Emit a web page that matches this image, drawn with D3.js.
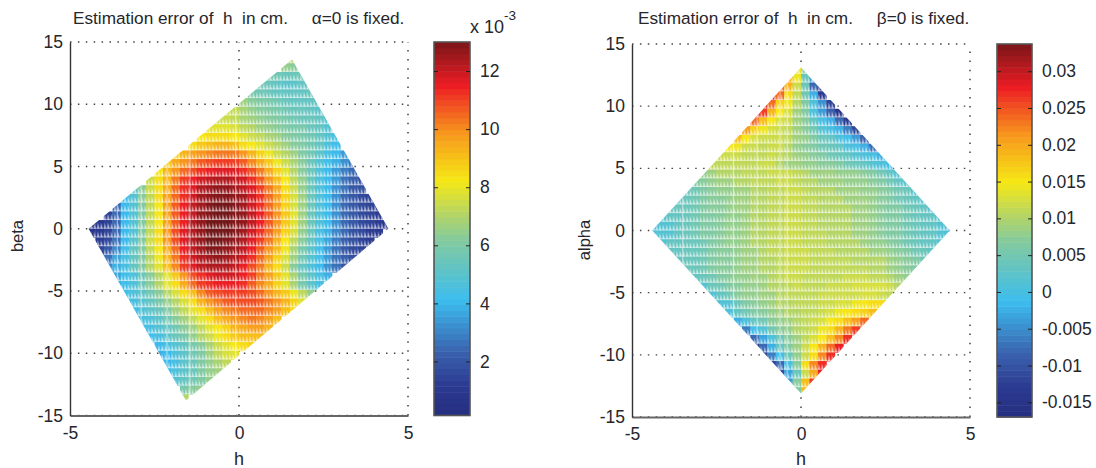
<!DOCTYPE html>
<html>
<head>
<meta charset="utf-8">
<script src="https://cdn.jsdelivr.net/npm/d3@7"></script>
<style>
  html, body { margin: 0; background: #fff; }
  text { font-family: "Liberation Sans", Arial, sans-serif; fill: #26262b; white-space: pre; }
</style>
</head>
<body>
<div id="graph"></div>
<script>
// error, one array per row, from the top row down.
// left panel in units of 1e-4 cm, right panel in units of 1e-3 cm
const leftRows = [
  [70,70],
  [64,62],
  [58,56,55,55,56],
  [56,54,52,51,51,52,54],
  [58,56,54,52,52,52,53,54],
  [66,63,60,58,56,54,53,53,53,52],
  [74,72,68,65,62,60,58,57,55,54,53,51],
  [75,74,72,69,66,64,62,60,58,57,55,54,52,48],
  [78,79,79,76,73,70,67,65,63,61,59,58,55,53,48],
  [83,84,85,85,82,79,75,72,69,66,63,61,59,56,53,49,44],
  [85,88,90,92,92,90,85,82,78,74,70,67,63,60,57,53,47,42],
  [87,92,96,99,101,102,103,102,98,92,86,80,75,71,66,61,56,51,45,40,34],
  [88,94,98,102,106,108,110,110,110,106,100,94,88,81,75,69,62,55,48,43,38,32,27],
  [83,92,99,104,108,112,114,116,117,116,113,108,102,94,86,78,70,62,54,47,41,35,29,25],
  [74,84,93,102,110,114,118,120,122,122,121,118,112,106,98,90,82,73,64,55,47,41,34,27,23,19],
  [50,62,74,84,95,104,112,117,122,124,126,126,124,121,116,110,102,94,85,74,64,54,46,40,33,26,21,18],
  [40,49,62,73,84,96,105,113,119,124,127,129,129,127,124,118,112,104,96,86,76,66,54,46,40,33,25,20,17,14],
  [24,40,48,60,72,83,97,106,114,120,125,128,130,130,128,125,119,113,105,97,87,77,66,54,46,40,32,25,20,17,14,12],
  [14,24,40,48,60,72,83,97,107,115,121,126,129,130,130,129,126,120,114,106,98,88,78,66,55,46,40,32,25,20,17,14,12],
  [9,11,14,24,40,48,60,72,83,97,107,115,122,127,130,130,130,129,126,120,114,106,98,88,78,66,55,46,40,32,25,20,17,14,12,9],
  [9,11,14,24,40,48,60,73,84,98,108,116,122,127,130,130,130,129,125,119,113,105,96,86,76,64,54,45,39,31,24,19,16,13,11],
  [12,16,26,40,50,60,74,84,98,108,116,122,127,130,130,129,126,122,117,110,102,93,83,72,62,52,44,37,29,22,18,15,13],
  [15,20,30,42,52,60,72,82,94,104,114,120,125,129,129,127,124,120,114,106,98,90,80,69,59,50,43,34,26,20,17,15],
  [26,36,44,52,60,71,81,92,102,112,118,122,125,126,125,122,118,112,105,96,87,77,66,56,48,42,34,27,22,18],
  [30,38,45,52,60,70,79,90,100,110,116,120,122,123,122,120,115,109,102,93,84,74,63,53,46,40,32,26,21],
  [36,42,46,54,62,70,79,88,98,108,113,116,118,118,118,115,110,103,96,88,79,68,58,50,44,38],
  [38,42,47,55,62,70,78,85,94,104,110,113,114,115,114,112,107,100,94,86,78,68,58,50,45],
  [42,46,50,57,63,70,77,84,90,100,106,109,110,111,111,109,104,99,93,88,80,72,64],
  [44,48,53,59,65,71,77,84,92,98,103,106,108,109,109,107,103,98,92,86,78],
  [43,46,50,55,60,66,72,78,84,90,96,100,103,105,105,104,100,96,90,84],
  [44,47,51,56,62,67,73,79,84,90,95,98,101,102,101,97,90],
  [42,45,48,52,57,62,67,72,78,83,87,92,95,97,96,92],
  [42,45,50,54,59,64,70,75,80,84,88,90,91,90],
  [40,44,48,53,58,63,69,74,79,82,85,86],
  [38,41,46,51,56,61,67,72,76,78],
  [40,45,50,55,60,65,69,72],
  [40,46,50,55,60,64,67],
  [48,52,57,61,64],
  [58,62,65],
  [70]
];
// column index where each row starts
const leftStart = [23,23,21,20,19,18,16,15,14,13,12,10,9,8,7,5,4,3,2,0,0,1,1,2,2,3,3,4,5,5,6,6,7,8,8,9,9,10,11,11];

const rightRows = [
  [14,6],
  [20,14,4,-4],
  [24,19,12,4,-8,-14],
  [27,24,16,11,5,-2,-13],
  [27,24,17,14,10,6,1,-5,-12],
  [27,26,19,15,13,9,6,1,-4,-9,-14],
  [24,18,15,13,12,9,7,3,0,-2,-8,-13],
  [21,17,14,13,12,11,9,7,5,2,0,-2,-6,-11],
  [18,15,13,12,12,12,11,9,8,6,4,3,1,-1,-4,-9],
  [15,14,12,12,11,12,12,10,8,7,6,5,4,3,1,0,-2,-7],
  [12,12,12,11,11,11,12,11,10,9,8,7,6,5,4,3,2,1,0,-2],
  [11,11,11,11,11,11,12,12,10,9,9,8,8,7,7,6,5,4,3,2,1,-1],
  [8,9,10,10,10,11,11,11,12,12,12,11,10,9,9,9,8,8,8,7,6,5,3,2],
  [6,7,8,9,9,10,10,11,11,11,12,12,11,10,10,9,9,9,8,8,8,7,6,5,3,2],
  [4,5,6,7,8,8,9,9,10,10,11,11,12,12,11,10,10,10,9,9,9,8,8,7,6,5,4,2],
  [3,4,5,6,7,7,8,9,9,10,10,11,11,12,12,11,11,10,10,10,9,9,9,8,7,6,5,4,3,2],
  [3,4,4,5,6,7,7,8,9,9,10,10,11,11,12,12,11,11,10,10,10,10,9,9,8,7,6,6,5,4,3,2],
  [2,3,3,4,5,6,6,7,8,8,9,10,10,11,11,12,12,11,11,10,10,10,10,9,9,8,7,6,6,5,4,3,3,2],
  [1,2,2,3,4,5,6,6,7,8,8,9,10,10,11,11,12,12,11,11,10,10,10,10,9,9,8,7,6,6,5,4,3,3,2,1],
  [1,2,2,3,4,5,6,6,7,8,8,9,10,10,11,11,12,12,11,11,11,10,10,10,9,9,8,7,6,6,5,4,3,3,2,1],
  [2,3,3,4,4,5,6,7,8,8,9,10,10,11,11,12,12,11,11,11,10,10,10,10,9,8,8,7,6,5,4,3,3,2],
  [3,3,4,4,5,6,7,7,8,9,9,10,11,11,12,12,12,11,11,11,10,10,10,10,9,9,8,7,6,5,4,3],
  [3,4,4,5,6,7,7,8,9,9,10,10,11,12,12,12,11,11,11,11,11,10,10,10,10,9,8,7,6,5],
  [4,4,5,6,7,7,8,9,9,10,10,11,12,12,12,11,11,11,11,11,11,11,10,10,9,8,7,6],
  [3,4,5,6,7,8,8,9,9,10,11,12,12,11,11,11,11,11,12,12,12,11,11,10,9,8],
  [2,4,5,6,7,8,8,9,10,10,11,12,11,11,11,12,12,12,13,13,13,13,12,10],
  [2,3,5,7,8,8,9,9,10,11,11,11,11,12,12,12,12,12,13,13,12,11],
  [1,2,4,6,7,8,9,10,10,11,11,11,12,12,13,13,14,15,16,16],
  [1,3,5,6,7,8,9,10,10,11,11,12,13,14,15,16,17,18],
  [-2,1,3,5,7,8,9,10,11,12,13,15,16,18,21,24],
  [-6,-1,2,5,7,8,10,11,12,14,16,19,23,26],
  [-8,-3,1,4,7,9,11,13,15,18,22,27],
  [-13,-8,-2,3,6,9,12,15,19,24,28],
  [-12,-6,-1,4,8,12,16,22,27],
  [-12,-8,0,7,16,22,27],
  [-10,-3,4,12,20,28],
  [-4,7,18,26],
  [6,18]
];
const rightStart = [17,16,15,14,13,12,12,11,10,9,8,7,6,5,4,3,2,1,0,0,1,2,3,4,5,6,7,8,9,10,11,12,12,13,14,15,16,17];

// corners of the sampled regions [h, beta or alpha]
const leftOutline = [[-4.45,0],[1.57,13.6],[4.42,0],[-1.57,-13.8]];
const rightOutline = [[-4.4,0],[0,13.1],[4.4,0],[0,-13.1]];

// white vertical seams in the mesh
const leftSeams = [-3.6,-2.9,-2.13,-1.45,-0.1];
const rightSeams = [-3.5,-2.0,-1.3,-0.62,-0.41];

const xTicks = [-5,0,5];
const yTicks = [-15,-10,-5,0,5,10,15];
const leftBarTicks = [2,4,6,8,10,12];
const rightBarTicks = [-0.015,-0.01,-0.005,0,0.005,0.01,0.015,0.02,0.025,0.03];

const hStep = 0.25, rowStep = 0.7, firstH = -4.375;

// jet as it came out in the printed figure
const jetStops = [0,.08,.17,.31,.47,.55,.63,.76,.885,1];
const jetColors = ["#262f80","#2b3990","#3a62ae","#3cbdee","#83ca9f","#bcd75c","#f6e815","#f7941d","#ec1c24","#7a1619"];
const jet = d3.scaleLinear().domain(jetStops).range(jetColors);
const nLevels = 64;

const svg = d3.select("#graph").append("svg").attr("width", 1096).attr("height", 468)
  .style("display", "block").style("background-color", "#FFFFFF");

const defs = svg.append("defs");

function drawPanel(p) {
  const x = d3.scaleLinear().domain([-5,5]).range(p.xRange);
  const y = d3.scaleLinear().domain([-15,15]).range(p.yRange);
  const level = d3.scaleLinear().domain(p.barDomain).range([0,1]).clamp(true);
  const colorOf = v => jet((Math.floor(level(v) * nLevels) + .5) / nLevels);

  // title and labels
  svg.append("text").attr("x", p.titleX).attr("y", 24).attr("font-size", 17.2).text(p.title);
  svg.append("text").attr("x", x(0)).attr("y", 465).attr("text-anchor", "middle").attr("font-size", 18).text("h");
  svg.append("text").attr("transform", `translate(${p.yLabelX},${p.yLabelY}) rotate(-90)`)
    .attr("text-anchor", "middle").attr("font-size", 16.5).text(p.yLabel);

  // dotted grid
  svg.append("g").selectAll("line").data(yTicks).join("line")
    .attr("x1", p.xRange[0]).attr("x2", p.xRange[1])
    .attr("y1", d => y(d)).attr("y2", d => y(d))
    .attr("stroke", "#444").attr("stroke-width", 1.4).attr("stroke-dasharray", "1.5,6.4");
  svg.append("g").selectAll("line").data(xTicks.slice(1)).join("line")
    .attr("x1", d => x(d)).attr("x2", d => x(d))
    .attr("y1", p.yRange[0]).attr("y2", p.yRange[1])
    .attr("stroke", "#333").attr("stroke-width", 1.4).attr("stroke-dasharray", "1.5,7.6");

  // mesh, clipped to the sampled region
  defs.append("clipPath").attr("id", p.id + "-clip").append("polygon")
    .attr("points", p.outline.map(d => [x(d[0]), y(d[1])].join(",")).join(" "));

  const cellW = x(hStep) - x(0), cellH = y(0) - y(rowStep);
  const rowTop = i => y(p.firstRow - rowStep * i + rowStep / 2);

  const texture = defs.append("pattern").attr("id", p.id + "-tex")
    .attr("patternUnits", "userSpaceOnUse")
    .attr("x", x(firstH - hStep / 2)).attr("y", rowTop(0))
    .attr("width", cellW * 2 / 5).attr("height", cellH);
  texture.append("path")
    .attr("d", `M0,${cellH}L${cellW * .08},${cellH * .3}L${cellW * .3},${cellH}Z`)
    .attr("fill", "#fff").attr("fill-opacity", .62);
  texture.append("rect").attr("y", cellH - 1).attr("width", cellW).attr("height", 1)
    .attr("fill", "#fff").attr("fill-opacity", .35);

  const mesh = svg.append("g").attr("clip-path", `url(#${p.id}-clip)`);
  p.rows.forEach((row, i) => {
    mesh.append("g").selectAll("rect").data(row).join("rect")
      .attr("x", (d, k) => x(firstH + hStep * (p.start[i] + k) - hStep / 2))
      .attr("y", rowTop(i))
      .attr("width", cellW + .4).attr("height", cellH + .4)
      .attr("fill", d => colorOf(d * p.unit));
  });
  mesh.append("rect").attr("x", p.xRange[0]).attr("y", p.yRange[1])
    .attr("width", p.xRange[1] - p.xRange[0]).attr("height", p.yRange[0] - p.yRange[1])
    .attr("fill", `url(#${p.id}-tex)`);
  mesh.append("g").selectAll("line").data(p.seams).join("line")
    .attr("x1", d => x(d)).attr("x2", d => x(d))
    .attr("y1", p.yRange[0]).attr("y2", p.yRange[1])
    .attr("stroke", "#fff").attr("stroke-width", 1.2).attr("stroke-opacity", .5);

  // axes, only left and bottom are solid
  const xAxis = svg.append("g").attr("transform", `translate(0,${p.yRange[0]})`)
    .call(d3.axisBottom(x).tickValues(xTicks).tickSize(0).tickPadding(11).tickFormat(String));
  const yAxis = svg.append("g").attr("transform", `translate(${p.xRange[0]},0)`)
    .call(d3.axisLeft(y).tickValues(yTicks).tickSize(0).tickPadding(7).tickFormat(String));
  xAxis.selectAll("text").attr("font-size", 17.5);
  yAxis.selectAll("text").attr("font-size", 17.5);
  xAxis.select(".domain").attr("stroke", "#666").attr("stroke-width", 1.8);
  yAxis.select(".domain").attr("stroke", "#333").attr("stroke-width", 1.4);

  // colorbar
  const barY = d3.scaleLinear().domain(p.barDomain).range(p.yRange);
  const [b0, b1] = p.barX;
  const step = (p.barDomain[1] - p.barDomain[0]) / nLevels;
  svg.append("g").selectAll("rect").data(d3.range(nLevels)).join("rect")
    .attr("x", b0).attr("width", b1 - b0)
    .attr("y", d => barY(p.barDomain[0] + step * (d + 1)))
    .attr("height", (p.yRange[0] - p.yRange[1]) / nLevels + .5)
    .attr("fill", d => jet((d + .5) / nLevels));
  svg.append("rect").attr("x", b0).attr("y", p.yRange[1]).attr("width", b1 - b0)
    .attr("height", p.yRange[0] - p.yRange[1])
    .attr("fill", "none").attr("stroke", "#555").attr("stroke-width", 1.6);
  const barAxis = svg.append("g").attr("transform", `translate(${b1},0)`)
    .call(d3.axisRight(barY).tickValues(p.barTicks).tickSize(-4).tickPadding(10).tickFormat(p.barFormat));
  barAxis.select(".domain").remove();
  barAxis.selectAll("line").attr("stroke", "#222");
  barAxis.selectAll("text").attr("font-size", 17.5);
  const barAxisL = svg.append("g").attr("transform", `translate(${b0},0)`)
    .call(d3.axisLeft(barY).tickValues(p.barTicks).tickSize(-4).tickFormat(""));
  barAxisL.select(".domain").remove();
  barAxisL.selectAll("line").attr("stroke", "#222");
}

drawPanel({
  id: "left", title: "Estimation error of  h  in cm.     \u03b1=0 is fixed.", titleX: 73,
  xRange: [70,408], yRange: [415.5,42], yLabel: "beta", yLabelX: 23, yLabelY: 236,
  rows: leftRows, start: leftStart, firstRow: 13.65, unit: 0.1,
  outline: leftOutline, seams: leftSeams,
  barX: [434,470], barDomain: [0.14,13], barTicks: leftBarTicks, barFormat: String
});

drawPanel({
  id: "right", title: "Estimation error of  h  in cm.     \u03b2=0 is fixed.", titleX: 638,
  xRange: [632,970], yRange: [417,44], yLabel: "alpha", yLabelX: 590, yLabelY: 240,
  rows: rightRows, start: rightStart, firstRow: 12.95, unit: 0.001,
  outline: rightOutline, seams: rightSeams,
  barX: [997,1032], barDomain: [-0.017,0.0337], barTicks: rightBarTicks, barFormat: d => String(+d.toFixed(3))
});

// exponent of the left colorbar
svg.append("text").attr("x", 470).attr("y", 33).attr("font-size", 18).text("x 10");
svg.append("text").attr("x", 504).attr("y", 20).attr("font-size", 13.5).text("-3");
</script>
</body>
</html>
